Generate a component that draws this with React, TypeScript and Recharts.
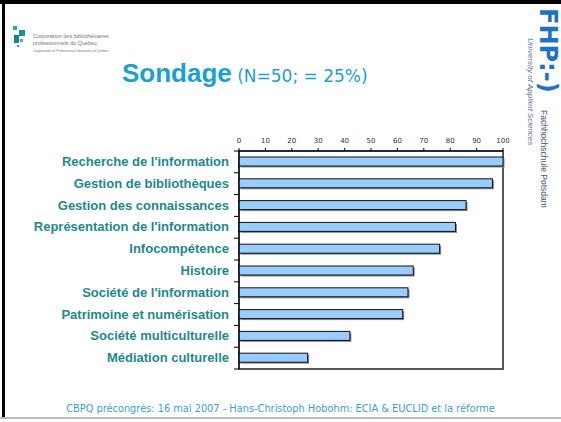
import React from 'react';
import { Bar, BarChart, ReferenceArea, XAxis, YAxis } from 'recharts';

// Survey results, N=50
const categories = [
  "Recherche de l'information",
  'Gestion de bibliothèques',
  'Gestion des connaissances',
  "Représentation de l'information",
  'Infocompétence',
  'Histoire',
  "Société de l'information",
  'Patrimoine et numérisation',
  'Société multiculturelle',
  'Médiation culturelle',
];
const scores = [100, 96, 86, 82, 76, 66, 64, 62, 42, 26];
const xTicks = [0, 10, 20, 30, 40, 50, 60, 70, 80, 90, 100];

const data = categories.map((name, i) => ({ name, value: scores[i] }));

// plot box geometry (the chart fills the whole slide)
const W = 561;
const H = 422;
const PLOT_LEFT = 239;
const PLOT_TOP = 151;
const PLOT_BOTTOM = 369;
const X_AXIS_H = 20;
const BAND = (PLOT_BOTTOM - PLOT_TOP) / categories.length;

const TEAL = '#21898a';
const BLUE = '#1ba0d2';

function CategoryTick(props: any) {
  const { y, payload, index } = props;
  const top = y - BAND / 2;
  return (
    <g>
      <line x1={PLOT_LEFT - 5} x2={PLOT_LEFT} y1={top} y2={top} stroke="#000" />
      {index === categories.length - 1 && (
        <line x1={PLOT_LEFT - 5} x2={PLOT_LEFT} y1={top + BAND} y2={top + BAND} stroke="#000" />
      )}
      <text
        x={PLOT_LEFT - 10}
        y={y}
        dy={4}
        textAnchor="end"
        fill={TEAL}
        fontSize={13}
        fontWeight={700}
        fontFamily="'Liberation Sans', Arial, sans-serif"
      >
        {payload.value}
      </text>
    </g>
  );
}

function ShadowBar(props: any) {
  const { x, y, width, height } = props;
  return (
    <g>
      <rect x={x + 1.5} y={y + 1.5} width={width} height={height} fill="#8a8a8a" />
      <rect x={x} y={y} width={width} height={height} fill="#99ccff" stroke="#111" strokeWidth={1} />
    </g>
  );
}

export default function App() {
  return (
    <div style={{ position: 'absolute', left: 0, top: 0, width: W, height: H, background: '#fff', overflow: 'hidden' }}>
      {/* slide frame */}
      <div style={{ position: 'absolute', left: 0, top: 0, width: W, height: 4, background: '#000' }} />
      <div style={{ position: 'absolute', left: 2, top: 0, width: 3, height: 417, background: '#000' }} />
      <div style={{ position: 'absolute', left: 0, top: 417, width: W, height: 2, background: '#bbb' }} />

      {/* top-left logo */}
      <div style={{ position: 'absolute', left: 13, top: 26, width: 4, height: 4, background: '#2aa9b0' }} />
      <div style={{ position: 'absolute', left: 19, top: 30, width: 6, height: 6, background: '#1e8fa0' }} />
      <div style={{ position: 'absolute', left: 14, top: 35, width: 5, height: 8, background: '#1b7e92' }} />
      <div style={{ position: 'absolute', left: 20, top: 39, width: 3, height: 3, background: '#3fb6c2' }} />
      <div style={{ position: 'absolute', left: 17, top: 45, width: 2, height: 2, background: '#2aa9b0' }} />
      <div style={{ position: 'absolute', left: 33, top: 33, fontFamily: "'Liberation Sans', sans-serif", fontSize: 5.5, lineHeight: '7px', color: '#777', whiteSpace: 'nowrap' }}>
        Corporation des bibliothécaires
        <br />
        professionnels du Québec
        <br />
        <span style={{ fontSize: 3.5 }}>Corporation of Professional Librarians of Quebec</span>
      </div>

      {/* title */}
      <div style={{ position: 'absolute', left: 122, top: 58, whiteSpace: 'nowrap', color: BLUE, fontFamily: "'DejaVu Sans', Verdana, sans-serif" }}>
        <span style={{ fontSize: 26, fontWeight: 700, fontFamily: "'Liberation Sans', Arial, sans-serif" }}>Sondage</span>
        <span style={{ fontSize: 17 }}> (N=50; = 25%)</span>
      </div>

      {/* right-hand logo */}
      <div style={{ position: 'absolute', left: 536, top: 8, writingMode: 'vertical-rl', fontFamily: "'DejaVu Sans', sans-serif", fontWeight: 700, fontSize: 24, lineHeight: '24px', color: '#1d74c0' }}>
        FHP:-)
      </div>
      <div style={{ position: 'absolute', left: 525, top: 38, writingMode: 'vertical-rl', fontFamily: "'Liberation Sans', sans-serif", fontStyle: 'italic', fontSize: 8, lineHeight: '10px', color: '#5f7396', whiteSpace: 'nowrap' }}>
        University of Applied Sciences
      </div>
      <div style={{ position: 'absolute', left: 539, top: 110, writingMode: 'vertical-rl', fontFamily: "'Liberation Sans', sans-serif", fontSize: 8.5, lineHeight: '10px', color: '#4a5a70', whiteSpace: 'nowrap' }}>
        Fachhochschule Potsdam
      </div>

      <div style={{ position: 'absolute', left: 0, top: 0 }}>
        <BarChart
          width={W}
          height={H}
          layout="vertical"
          data={data}
          margin={{ top: PLOT_TOP - X_AXIS_H, right: W - 503, bottom: H - PLOT_BOTTOM, left: 10 }}
          barCategoryGap={0}
        >
          <ReferenceArea x1={0} x2={100} fill="none" stroke="#222" strokeWidth={1.5} ifOverflow="visible" />
          <XAxis
            type="number"
            orientation="top"
            domain={[0, 100]}
            ticks={xTicks}
            height={X_AXIS_H}
            tickSize={3}
            tickMargin={5}
            stroke="#000"
            tick={{ fontSize: 7, fill: '#333', fontFamily: "'DejaVu Sans', sans-serif" }}
          />
          <YAxis
            type="category"
            dataKey="name"
            width={PLOT_LEFT - 10}
            interval={0}
            tickLine={false}
            stroke="#000"
            tick={<CategoryTick />}
          />
          <Bar dataKey="value" barSize={9} shape={<ShadowBar />} isAnimationActive={false} />
        </BarChart>
      </div>

      {/* footer */}
      <div style={{ position: 'absolute', left: 0, top: 403, width: W, textAlign: 'center', fontFamily: "'DejaVu Sans', Verdana, sans-serif", fontSize: 9.8, color: '#3a9fd0', whiteSpace: 'nowrap' }}>
        CBPQ précongrès: 16 mai 2007 - Hans-Christoph Hobohm: ECIA &amp; EUCLID et la réforme
      </div>
    </div>
  );
}
